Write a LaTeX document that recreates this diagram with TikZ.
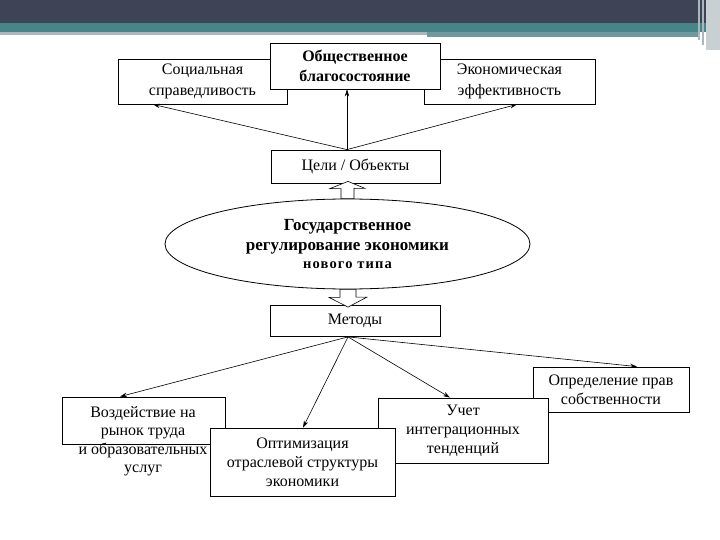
\documentclass[tikz,border=0pt]{standalone}
\usepackage{fontspec}
\setmainfont{Liberation Serif}
\usetikzlibrary{arrows.meta,positioning,shapes.geometric,calc}
\definecolor{barslate}{RGB}{62,67,85}
\definecolor{barteal}{RGB}{71,133,137}
\definecolor{barlight}{RGB}{168,184,190}
\definecolor{barpale}{RGB}{200,208,212}
\tikzset{
  plainbox/.style={draw, fill=white, line width=0.8pt, align=center,
                   font=\fontsize{16}{19}\selectfont, inner sep=2pt},
  topbox/.style  ={plainbox, font=\fontsize{16}{21}\selectfont},
  headbox/.style ={plainbox, font=\fontsize{16}{20}\selectfont\bfseries},
  govoval/.style ={ellipse, draw, fill=white, line width=0.8pt,
                   minimum width=365pt, minimum height=90pt, align=center,
                   inner sep=0pt, font=\fontsize{17}{20}\selectfont\bfseries},
  txtonly/.style ={align=center, font=\fontsize{16}{18.5}\selectfont, inner sep=0pt},
  arr/.style     ={-{Stealth[length=7pt,width=4.5pt]}, line width=0.6pt},
  hollowarr/.style={draw, fill=white, line width=0.6pt, line join=miter},
}

\begin{document}
\begin{tikzpicture}[x=1pt,y=-1pt]
  \useasboundingbox (0,0) rectangle (720,540);
  % slide header
  \fill[barslate] (0,0) rectangle (720,23);
  \fill[barteal] (0,23) rectangle (720,32);
  \fill[barlight] (0,32) rectangle (427,35);
  \fill[barteal!60!barlight] (427,32) rectangle (700,37);
  \fill[barpale] (706,0) rectangle (720,50);
  \fill[barlight] (698,0) rectangle (700,40);
  \fill[barlight] (702,0) rectangle (704,45);

  % top row
  \node[topbox, minimum width=169pt, minimum height=45pt] (soc) at (202.5,81.5)
       {Социальная\\справедливость};
  \node[topbox, minimum width=171pt, minimum height=45pt] (eff) at (509.5,81.5)
       {Экономическая\\эффективность};
  \node[headbox, minimum width=170pt, minimum height=46pt] (welf) at (355,66)
       {Общественное\\благосостояние};
  \node[plainbox, minimum width=169pt, minimum height=33pt] (goal) at (355.5,166.5)
       {Цели / Объекты};

  % centre
  \node[govoval] (gov) at (347.5,244)
       {Государственное\\регулирование экономики\\[-2pt]
        \fontsize{14.5}{17}\selectfont\addfontfeature{LetterSpace=8}нового типа};
  \node[plainbox, minimum width=170pt, minimum height=31pt] (meth) at (355,321)
       {Методы};

  % bottom row
  \node[plainbox, minimum width=156pt, minimum height=45pt] (prop) at (611,389.5)
       {Определение прав\\собственности};
  \node[plainbox, minimum width=170pt, minimum height=65pt] (integ) at (463,430.5)
       {Учет\\интеграционных\\тенденций};
  \node[plainbox, minimum width=163pt, minimum height=47pt] (labour) at (143.5,420.5) {};
  \node[txtonly, anchor=north] (labourtxt) at (143,406)
       {Воздействие на\\рынок труда\\и образовательных\\услуг};
  \node[plainbox, minimum width=185pt, minimum height=68pt] (opt) at (302.5,462)
       {Оптимизация\\отраслевой структуры\\экономики};

  % goals
  \draw[arr] ([xshift=-8.5pt]goal.north) -- ([xshift=-49.5pt]soc.south);
  \draw[arr] ([xshift=-8.5pt]goal.north) -- ([xshift=-8pt]welf.south);
  \draw[arr] ([xshift=-8.5pt]goal.north) -- ([xshift=7.5pt]eff.south);

  % block arrows
  \coordinate (uptip) at ([xshift=-7.5pt,yshift=2pt]goal.south);
  \draw[hollowarr] (uptip) -- ++(17,7) -- ++(-11,0) |- (gov.north)
       -- ++(-6.5,0) -- ++(0,-10) -- ++(-11,0) -- cycle;
  \coordinate (dntip) at ([xshift=-7pt,yshift=-2pt]meth.north);
  \draw[hollowarr] (dntip) -- ++(19,-10) -- ++(-11,0) |- (gov.south)
       -- ++(-7.5,0) -- ++(0,8) -- ++(-11,0) -- cycle;

  % methods
  \draw[arr] ([xshift=-7pt]meth.south) -- ([xshift=-23.5pt]labour.north);
  \draw[arr] ([xshift=-7pt]meth.south) -- ([xshift=0.5pt]opt.north);
  \draw[arr] ([xshift=-7pt]meth.south) -- ([xshift=-13pt]integ.north);
  \draw[arr] ([xshift=-7pt]meth.south) -- ([xshift=26pt]prop.north);
\end{tikzpicture}
\end{document}
